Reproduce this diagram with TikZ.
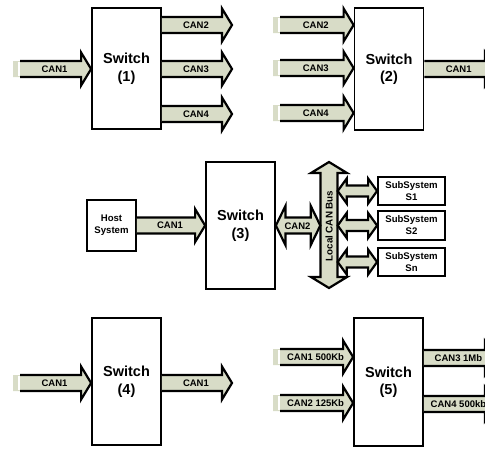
\documentclass[tikz,border=0pt]{standalone}
\usepackage{fontspec}
\setmainfont{Liberation Sans}
\usetikzlibrary{calc}
\definecolor{cfill}{RGB}{216,220,199}
\tikzset{
 swbox/.style={draw, line width=1.8pt, minimum width=69pt, inner sep=0pt, align=center,
   font=\fontsize{14.5}{17.5}\selectfont\bfseries},
 smallbox/.style={draw, line width=1.8pt, inner sep=0pt, align=center,
   font=\fontsize{9.6}{12}\selectfont\bfseries},
 albl/.style={font=\fontsize{9.5}{10}\selectfont\bfseries, inner sep=0pt},
 aline/.style={line width=2.2pt, line join=miter},
}
\newcommand\SH{8pt}
\newcommand\HH{16.5pt}
\newcommand\HL{10pt}
% free tail -> tip
\newcommand\inarrow[4]{%
 \fill[cfill] let \p1=(#1), \p2=(#2) in (\x1,\y1+\SH) -- (\x2-\HL,\y1+\SH) -- (\x2-\HL,\y1+\HH) -- (\x2,\y1) -- (\x2-\HL,\y1-\HH) -- (\x2-\HL,\y1-\SH) -- (\x1,\y1-\SH) -- cycle;
 \draw[white, line width=1.2pt] let \p1=(#1) in (\x1+6pt,\y1+\SH-1.2pt) -- (\x1+6pt,\y1-\SH+1.2pt);
 \draw[aline] let \p1=(#1), \p2=(#2) in (\x1+7pt,\y1+\SH) -- (\x2-\HL,\y1+\SH) -- (\x2-\HL,\y1+\HH) -- (\x2,\y1) -- (\x2-\HL,\y1-\HH) -- (\x2-\HL,\y1-\SH) -- (\x1+7pt,\y1-\SH);
 \path let \p1=(#1), \p2=(#2) in node[albl] (#4) at ({(\x1+7pt+\x2-\HL)/2+4pt},\y1) {#3};
}
% tail at a node -> tip
\newcommand\outarrow[4]{%
 \fill[cfill] let \p1=(#1), \p2=(#2) in (\x1,\y1+\SH) -- (\x2-\HL,\y1+\SH) -- (\x2-\HL,\y1+\HH) -- (\x2,\y1) -- (\x2-\HL,\y1-\HH) -- (\x2-\HL,\y1-\SH) -- (\x1,\y1-\SH) -- cycle;
 \draw[aline] let \p1=(#1), \p2=(#2) in (\x1,\y1+\SH) -- (\x2-\HL,\y1+\SH) -- (\x2-\HL,\y1+\HH) -- (\x2,\y1) -- (\x2-\HL,\y1-\HH) -- (\x2-\HL,\y1-\SH) -- (\x1,\y1-\SH);
 \path let \p1=(#1), \p2=(#2) in node[albl] (#4) at ({(\x1+\x2-\HL)/2+4pt},\y1) {#3};
}
% horizontal double arrow: left tip, right tip, shaft half, head half, head length
\newcommand\dharrow[5]{%
 \filldraw[aline, fill=cfill] let \p1=(#1), \p2=(#2) in (\x1,\y1) -- (\x1+#5,\y1+#4) -- (\x1+#5,\y1+#3) -- (\x2-#5,\y1+#3) -- (\x2-#5,\y1+#4) -- (\x2,\y1) -- (\x2-#5,\y1-#4) -- (\x2-#5,\y1-#3) -- (\x1+#5,\y1-#3) -- (\x1+#5,\y1-#4) -- cycle;
}
% vertical double arrow: top tip, bottom tip, shaft half, head half, head length
\newcommand\dvarrow[5]{%
 \filldraw[aline, fill=cfill] let \p1=(#1), \p2=(#2) in (\x1,\y1) -- (\x1+#4,\y1-#5) -- (\x1+#3,\y1-#5) -- (\x1+#3,\y2+#5) -- (\x1+#4,\y2+#5) -- (\x1,\y2) -- (\x1-#4,\y2+#5) -- (\x1-#3,\y2+#5) -- (\x1-#3,\y1-#5) -- (\x1-#4,\y1-#5) -- cycle;
}
\begin{document}
\begin{tikzpicture}[x=1pt,y=-1pt]
\path[use as bounding box] (0,0) rectangle (485,448);
\clip (0,0) rectangle (485,448);

% ---------- Switch (1)
\node[swbox, minimum height=121pt] (sw1) at (126.5,68.5) {Switch\\(1)};
\coordinate (t11) at (13,69);
\coordinate (o12) at (232,25);
\coordinate (o13) at (232,69);
\coordinate (o14) at (232,114);
\inarrow{t11}{sw1.west |- t11}{CAN1}{l11}
\outarrow{sw1.east |- o12}{o12}{CAN2}{l12}
\outarrow{sw1.east |- o13}{o13}{CAN3}{l13}
\outarrow{sw1.east |- o14}{o14}{CAN4}{l14}

% ---------- Switch (2)
\node[swbox, minimum height=122pt] (sw2) at (389,69) {Switch\\(2)};
\coordinate (t22) at (273,25);
\coordinate (t23) at (273,68);
\coordinate (t24) at (273,113);
\coordinate (o21) at (495,69);
\inarrow{t22}{sw2.west |- t22}{CAN2}{l22}
\inarrow{t23}{sw2.west |- t23}{CAN3}{l23}
\inarrow{t24}{sw2.west |- t24}{CAN4}{l24}
\outarrow{sw2.east |- o21}{o21}{CAN1}{l21}

% ---------- Switch (3)
\node[smallbox, minimum width=49pt, minimum height=51pt] (host) at (111.5,225.5) {Host\\System};
\node[swbox, minimum height=127pt] (sw3) at (240.5,225.5) {Switch\\(3)};
\outarrow{host.east}{sw3.west}{CAN1}{l31}
\coordinate (busT) at (329,162);
\coordinate (busB) at (329,288);
\dvarrow{busT}{busB}{8.5pt}{18pt}{11pt}
\node[albl, font=\fontsize{9.8}{10}\selectfont\bfseries, rotate=90, minimum height=17pt, minimum width=104pt] (bus) at (329,226) {Local CAN Bus};
\dharrow{sw3.east}{bus.north |- sw3.east}{8pt}{19.5pt}{9.5pt}
\node[albl] (l32) at (297.5,226) {CAN2};
\node[smallbox, minimum width=67pt, minimum height=28pt] (s1) at (411.5,191) {SubSystem\\S1};
\node[smallbox, minimum width=67pt, minimum height=29pt] (s2) at (411.5,225.5) {SubSystem\\S2};
\node[smallbox, minimum width=67pt, minimum height=28pt] (sn) at (411.5,262) {SubSystem\\Sn};
\dharrow{bus.south |- s1.west}{s1.west}{5.5pt}{12.5pt}{9pt}
\dharrow{bus.south |- s2.west}{s2.west}{5.5pt}{12.5pt}{9pt}
\dharrow{bus.south |- sn.west}{sn.west}{5.5pt}{12.5pt}{9pt}

% ---------- Switch (4)
\node[swbox, minimum height=127pt] (sw4) at (126.5,381.5) {Switch\\(4)};
\coordinate (t41) at (13,383);
\coordinate (o41) at (232,383);
\inarrow{t41}{sw4.west |- t41}{CAN1}{l41}
\outarrow{sw4.east |- o41}{o41}{CAN1}{l42}

% ---------- Switch (5)
\node[swbox, minimum height=128pt] (sw5) at (388.5,382) {Switch\\(5)};
\coordinate (t51) at (273,357);
\coordinate (t52) at (273,403);
\coordinate (o53) at (495,358);
\coordinate (o54) at (495,404);
\inarrow{t51}{sw5.west |- t51}{CAN1 500Kb}{l51}
\inarrow{t52}{sw5.west |- t52}{CAN2 125Kb}{l52}
\outarrow{sw5.east |- o53}{o53}{CAN3 1Mb}{l53}
\outarrow{sw5.east |- o54}{o54}{CAN4 500kb}{l54}
\end{tikzpicture}
\end{document}
